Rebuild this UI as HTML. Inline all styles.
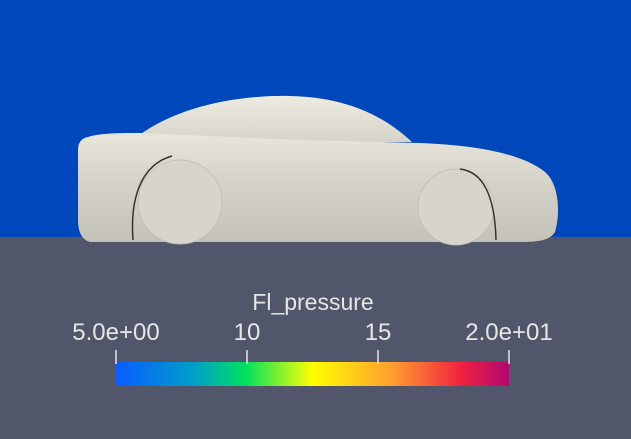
<!DOCTYPE html>
<html><head><meta charset="utf-8"><style>
html,body{margin:0;padding:0;width:631px;height:439px;overflow:hidden;background:#0047BB}
svg{display:block}
text{font-family:"Liberation Sans",sans-serif;fill:#e6e6e6}
</style></head><body>
<svg id="s" width="631" height="439" viewBox="0 0 631 439">
<defs>
<linearGradient id="body" x1="0" y1="0" x2="0" y2="1">
<stop offset="0" stop-color="#e8e6dc"/><stop offset="0.5" stop-color="#d3d1c7"/><stop offset="1" stop-color="#c4c2b8"/>
</linearGradient>
<linearGradient id="roof" x1="0" y1="0" x2="0" y2="1">
<stop offset="0" stop-color="#eeece2"/><stop offset="1" stop-color="#d6d4ca"/>
</linearGradient>
<linearGradient id="cmap" x1="0" y1="0" x2="1" y2="0">
<stop offset="0" stop-color="#0a5cff"/>
<stop offset="0.2" stop-color="#00a0c8"/>
<stop offset="0.33" stop-color="#00e060"/>
<stop offset="0.5" stop-color="#ffff00"/>
<stop offset="0.7" stop-color="#ffa030"/>
<stop offset="0.88" stop-color="#f02040"/>
<stop offset="1" stop-color="#b00870"/>
</linearGradient>
</defs>
<rect x="0" y="0" width="631" height="240" fill="#0047BB"/>
<rect x="0" y="237" width="631" height="202" fill="#52566B"/>
<g>
<path d="M138,136 C180,105 240,95 290,96 C340,97 380,112 412,142 L138,142 Z" fill="url(#roof)"/>
<path d="M88,137 C100,133 120,133 140,133 L300,140 L420,143 C470,145 520,152 545,172 C560,185 560,215 555,232 C550,240 540,242 520,242 L90,242 C82,240 78,232 78,220 L78,150 C78,142 82,138 88,137 Z" fill="url(#body)"/>
<circle cx="180" cy="202" r="42" fill="#d7d5cb" stroke="#c4c2b8" stroke-width="1"/>
<path d="M133,240 C130,200 140,165 172,156" fill="none" stroke="#333" stroke-width="1.5"/>
<circle cx="456" cy="207" r="38" fill="#d7d5cb" stroke="#c4c2b8" stroke-width="1"/>
<path d="M460,169 C485,172 495,200 496,240" fill="none" stroke="#333" stroke-width="1.5"/>
</g>
<g id="legend">
<text x="313" y="310" font-size="23" text-anchor="middle">Fl_pressure</text>
<rect x="116" y="362" width="393" height="24" fill="url(#cmap)"/>
</g>
</svg>
<script>
const rangeMin = 5, rangeMax = 20;
const tickValues = [5, 10, 15, 20];
const tickLabels = ["5.0e+00", "10", "15", "2.0e+01"];
const x0 = 116, x1 = 509;
const xs = v => x0 + (v - rangeMin) / (rangeMax - rangeMin) * (x1 - x0);
const g = document.getElementById('legend');
const NS = 'http://www.w3.org/2000/svg';
tickValues.forEach((v, i) => {
  const x = xs(v);
  const l = document.createElementNS(NS, 'line');
  
  
  l.setAttribute('x1', x); l.setAttribute('x2', x);
  l.setAttribute('y1', 350); l.setAttribute('y2', 364);
  l.setAttribute('stroke', '#e6e6e6'); l.setAttribute('stroke-width', '1.5');
  g.appendChild(l);
  const t = document.createElementNS(NS, 'text');
  
  
  t.setAttribute('x', x); t.setAttribute('y', 340);
  t.setAttribute('font-size', '24');
  t.setAttribute('text-anchor', 'middle');
  t.textContent = tickLabels[i];
  g.appendChild(t);
});
</script>
</body></html>
